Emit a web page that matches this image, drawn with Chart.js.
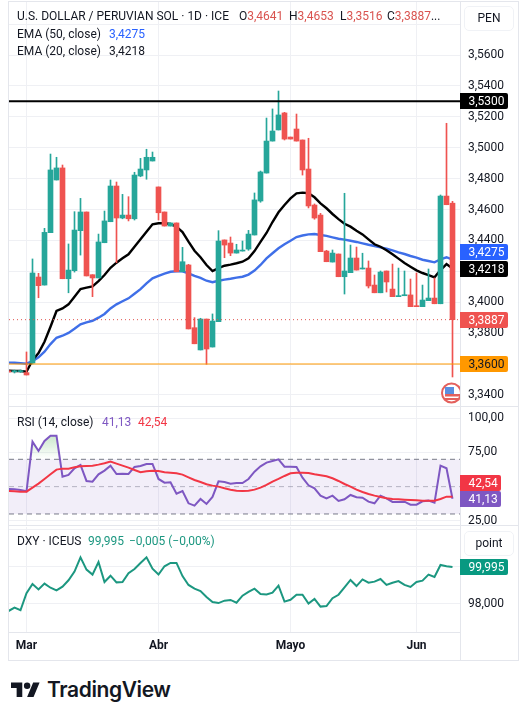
<!DOCTYPE html>
<html>
<head>
<meta charset="utf-8">
<title>USD/PEN</title>
<script src="https://cdn.jsdelivr.net/npm/chart.js@4"></script>
<style>
  html, body { margin: 0; padding: 0; background: #fff; }
  body { width: 528px; height: 705px; position: relative; overflow: hidden; font-family: Roboto, sans-serif; color: #131722; }
  canvas { position: absolute; left: 9px; }
  .rule { position: absolute; background: #e4e6ec; }
  .txt { position: absolute; font-size: 12px; line-height: 14px; white-space: pre; }
  .unit { position: absolute; left: 464px; width: 48px; height: 23px; line-height: 23px; border: 1.5px solid #f0f2f6; border-radius: 5px; text-align: center; font-size: 12px; }
  .red { color: #d9534f; }
  .teal { color: #1c9780; }
</style>
</head>
<body>

<!-- frame and pane separators -->
<div class="rule" style="left:8px;top:1px;width:511px;height:1px"></div>
<div class="rule" style="left:8px;top:660px;width:511px;height:1px"></div>
<div class="rule" style="left:8px;top:1px;width:1px;height:660px"></div>
<div class="rule" style="left:518px;top:1px;width:1px;height:660px"></div>
<div class="rule" style="left:460px;top:1px;width:1px;height:660px"></div>
<div class="rule" style="left:8px;top:406px;width:511px;height:1px"></div>
<div class="rule" style="left:8px;top:525px;width:511px;height:1px"></div>

<canvas id="priceChart" style="top:2px" width="510" height="404"></canvas>
<canvas id="rsiChart" style="top:407px" width="510" height="118"></canvas>
<canvas id="dxyChart" style="top:527px" width="510" height="133"></canvas>

<div class="txt" style="left:17px;top:9px">U.S. DOLLAR / PERUVIAN SOL · 1D · ICE</div>
<div class="txt" style="left:239px;top:9px">O<span class="red">3,4641</span></div>
<div class="txt" style="left:289px;top:9px">H<span class="red">3,4653</span></div>
<div class="txt" style="left:340px;top:9px">L<span class="red">3,3516</span></div>
<div class="txt" style="left:387px;top:9px">C<span class="red">3,3887</span>...</div>
<div class="txt" style="left:17px;top:27px">EMA (50, close)</div>
<div class="txt" style="left:109px;top:27px;color:#2962ff">3,4275</div>
<div class="txt" style="left:17px;top:44px">EMA (20, close)</div>
<div class="txt" style="left:109px;top:44px">3,4218</div>

<div class="txt" style="left:17px;top:415px">RSI (14, close)</div>
<div class="txt" style="left:102px;top:415px;color:#7e57c2">41,13</div>
<div class="txt" style="left:138px;top:415px;color:#f23645">42,54</div>

<div class="txt" style="left:17px;top:534px">DXY · ICEUS</div>
<div class="txt teal" style="left:88px;top:534px">99,995</div>
<div class="txt teal" style="left:129px;top:534px">−0,005 (−0,00%)</div>

<div class="unit" style="top:6px">PEN</div>
<div class="unit" style="top:531px">point</div>

<!-- economic event marker at the foot of the price pane -->
<svg style="position:absolute;left:441px;top:382px" width="19" height="22" viewBox="0 0 19 22">
  <circle cx="10.5" cy="11" r="9.5" fill="#fff" stroke="#e4605c" stroke-width="2"/>
  <rect x="4" y="12" width="15" height="2.5" fill="#e4605c"/>
  <rect x="4" y="16" width="13" height="2" fill="#e4605c"/>
  <rect x="4" y="5" width="9" height="7" fill="#5b8fe0"/>
</svg>

<!-- footer logo -->
<svg style="position:absolute;left:11px;top:679px" width="29" height="23" viewBox="0 0 36 28" fill="#131722">
  <path d="M14 22H7V11H0V4h14v18zM28 22h-8l7.5-18h8L28 22z"/><circle cx="20" cy="8" r="4"/>
</svg>
<div style="position:absolute;left:47px;top:677px;font:600 21px/26px Inter,Roboto,sans-serif;color:#131722;letter-spacing:-0.4px">TradingView</div>

<script>
// Daily USD/PEN candles, 75 sessions (the first one is cut by the left edge)
const opens = [3.3556,3.3550,3.3551,3.3544,3.3606,3.4163,3.4111,3.4450,3.4791,3.4869,3.4152,3.4204,3.4463,3.4584,3.4178,3.4157,3.4385,3.4521,3.4752,3.4545,3.4564,3.4540,3.4817,3.4856,3.4914,3.4746,3.4584,3.4493,3.4513,3.4197,3.4241,3.3835,3.3691,3.3891,3.3710,3.3874,3.4403,3.4383,3.4318,3.4331,3.4344,3.4435,3.4655,3.4836,3.5043,3.5115,3.5225,3.5069,3.5121,3.5050,3.4862,3.4629,3.4564,3.4331,3.4260,3.4312,3.4165,3.4191,3.4286,3.4215,3.4221,3.4111,3.4061,3.4202,3.4085,3.4036,3.4042,3.4047,3.3975,3.3971,3.4010,3.4027,3.3990,3.4687,3.4641];
const highs = [3.3560,3.3561,3.3561,3.3678,3.4280,3.4187,3.4478,3.4959,3.4938,3.4888,3.4377,3.4586,3.4672,3.4584,3.4178,3.4441,3.4590,3.4791,3.4778,3.4698,3.4683,3.4841,3.4931,3.4990,3.4972,3.4746,3.4584,3.4513,3.4513,3.4355,3.4245,3.3900,3.3896,3.3891,3.3924,3.4463,3.4403,3.4422,3.4375,3.4396,3.4465,3.4707,3.4849,3.5192,3.5251,3.5367,3.5229,3.5069,3.5218,3.5050,3.5061,3.4636,3.4575,3.4336,3.4338,3.4312,3.4705,3.4370,3.4357,3.4317,3.4267,3.4176,3.4202,3.4202,3.4247,3.4221,3.4202,3.4150,3.4189,3.4111,3.4215,3.4157,3.4694,3.5158,3.4653];
const lows = [3.3545,3.3542,3.3545,3.3529,3.3600,3.4029,3.4111,3.4450,3.4791,3.4152,3.4061,3.4195,3.4305,3.4170,3.4036,3.4157,3.4385,3.4521,3.4256,3.4540,3.4526,3.4532,3.4812,3.4796,3.4914,3.4532,3.4493,3.4493,3.4197,3.4197,3.3827,3.3731,3.3691,3.3598,3.3710,3.3874,3.4288,3.4301,3.4318,3.4331,3.4336,3.4435,3.4647,3.4836,3.5043,3.5115,3.5050,3.5056,3.5043,3.4823,3.4610,3.4537,3.4327,3.4262,3.4260,3.4165,3.4053,3.4191,3.4208,3.4215,3.4092,3.4061,3.4061,3.4066,3.4036,3.4036,3.4042,3.3971,3.3971,3.3971,3.4010,3.3990,3.3990,3.4631,3.3516];
const closes = [3.3548,3.3555,3.3556,3.3529,3.4189,3.4107,3.4452,3.4856,3.4869,3.4152,3.4208,3.4467,3.4584,3.4170,3.4157,3.4390,3.4526,3.4752,3.4545,3.4564,3.4540,3.4823,3.4862,3.4938,3.4938,3.4579,3.4493,3.4513,3.4197,3.4262,3.3827,3.3731,3.3891,3.3697,3.3878,3.4396,3.4370,3.4318,3.4338,3.4336,3.4441,3.4662,3.4843,3.5043,3.5108,3.5212,3.5056,3.5056,3.5043,3.4856,3.4623,3.4545,3.4327,3.4262,3.4318,3.4165,3.4202,3.4286,3.4208,3.4221,3.4105,3.4061,3.4195,3.4131,3.4036,3.4040,3.4047,3.3971,3.3971,3.4014,3.4027,3.3990,3.4687,3.4631,3.3887];

const ema20 = [3.3556,3.3555,3.3555,3.3550,3.3624,3.3671,3.3744,3.3841,3.3943,3.3960,3.3986,3.4036,3.4085,3.4094,3.4103,3.4137,3.4176,3.4223,3.4256,3.4284,3.4310,3.4359,3.4407,3.4456,3.4504,3.4511,3.4511,3.4506,3.4489,3.4454,3.4392,3.4333,3.4291,3.4241,3.4202,3.4221,3.4236,3.4243,3.4252,3.4262,3.4284,3.4331,3.4390,3.4448,3.4519,3.4582,3.4629,3.4672,3.4705,3.4709,3.4705,3.4679,3.4640,3.4608,3.4571,3.4538,3.4508,3.4489,3.4463,3.4439,3.4407,3.4375,3.4359,3.4336,3.4310,3.4282,3.4254,3.4230,3.4206,3.4189,3.4176,3.4161,3.4208,3.4247,3.4218];
const ema50 = [3.3609,3.3608,3.3606,3.3602,3.3619,3.3643,3.3680,3.3729,3.3770,3.3783,3.3801,3.3828,3.3857,3.3870,3.3880,3.3900,3.3924,3.3960,3.3986,3.4006,3.4025,3.4055,3.4085,3.4122,3.4155,3.4170,3.4185,3.4197,3.4200,3.4200,3.4187,3.4170,3.4157,3.4139,3.4129,3.4139,3.4146,3.4152,3.4159,3.4165,3.4179,3.4205,3.4241,3.4284,3.4317,3.4349,3.4375,3.4398,3.4422,3.4432,3.4439,3.4441,3.4435,3.4429,3.4420,3.4411,3.4405,3.4398,3.4390,3.4381,3.4372,3.4364,3.4355,3.4346,3.4336,3.4323,3.4312,3.4299,3.4288,3.4275,3.4267,3.4258,3.4278,3.4291,3.4275];

const rsi = [48.30,48.05,47.56,46.59,82.93,76.10,83.41,87.32,87.32,57.32,58.54,63.41,65.85,54.15,53.66,59.02,61.71,65.37,59.27,59.51,59.27,64.39,65.12,66.59,66.59,55.61,52.93,53.17,44.88,46.83,37.80,36.10,40.98,37.32,42.44,53.90,53.41,52.20,52.68,52.68,55.61,60.98,64.88,67.56,68.78,70.00,64.63,64.63,64.39,56.59,50.98,48.78,43.41,41.46,43.41,39.51,40.73,43.90,42.20,41.95,39.02,37.80,43.41,41.46,38.78,38.78,39.02,36.83,36.83,39.27,39.76,38.29,65.37,63.41,41.13];
const rsiMa = [46.80,46.59,46.34,46.34,49.27,52.20,55.61,59.02,62.44,63.17,63.17,64.15,64.88,65.12,65.37,66.10,67.07,68.29,66.83,65.37,63.90,62.20,60.49,61.22,61.71,61.46,60.49,60.24,59.76,58.78,56.83,54.88,53.41,51.71,50.73,50.00,48.78,47.80,47.07,46.83,47.07,47.80,49.27,51.22,53.66,55.61,57.80,59.76,60.24,60.24,60.00,59.02,58.29,57.56,56.10,54.15,51.95,50.00,47.80,46.10,44.63,43.41,42.44,41.46,40.98,40.73,40.49,40.24,40.00,39.76,39.76,39.76,40.98,42.68,42.54];

const dxy = [97.62,97.80,97.66,98.58,99.08,98.79,99.10,98.88,98.74,98.94,99.28,99.75,100.52,99.86,99.59,100.27,99.19,99.53,99.17,99.19,99.66,99.89,100.22,100.52,99.91,99.59,100.04,100.22,100.22,99.51,99.03,98.83,98.70,98.38,98.11,98.05,98.18,98.22,98.07,98.45,98.65,98.83,98.54,98.52,98.61,98.99,98.13,98.23,98.50,98.50,98.02,98.27,97.86,97.89,98.31,98.50,98.90,99.30,98.97,99.33,99.15,99.21,99.35,99.03,99.15,99.24,99.03,98.92,99.19,99.26,99.59,99.46,100.11,100.04,99.995];

const monthLabels = ['Mar', 'Abr', 'Mayo', 'Jun'];
const monthIndexes = [3, 25, 47, 68];
const priceTicks = [3.34, 3.36, 3.38, 3.40, 3.42, 3.44, 3.46, 3.48, 3.50, 3.52, 3.54, 3.56, 3.58];
const priceTickHidden = [3.58];
const rsiTicks = [25, 75, 100];
const dxyTicks = [98, 100, 102];
const dxyTickShown = [98];

const resistance = 3.53;
const support = 3.36;
const lastClose = closes.at(-1);
const rsiUpper = 70, rsiMiddle = 50, rsiLower = 30;

const UP = '#26a69a';
const DOWN = '#ef5350';
const GRID = '#eff0f4';
const TEXT = '#131722';
const FONT = 'Roboto, sans-serif';

// shared horizontal window, one bar every 6px
const xMin = 0.0833, xMax = 75.25;
const pts = arr => arr.map((v, i) => ({ x: i, y: v }));
const span = v => [{ x: xMin, y: v }, { x: xMax, y: v }];
const comma = (v, d) => v.toFixed(d).replace('.', ',');

const lineDs = (data, color, width, order, extra) => Object.assign({
  type: 'line', data, borderColor: color, borderWidth: width, order,
  pointRadius: 0, tension: 0, fill: false
}, extra);

// price tags sitting on the right axis
const axisTags = items => ({
  id: 'axisTags',
  afterDraw(chart) {
    const { ctx } = chart;
    const scale = chart.scales.y;
    items.forEach(t => {
      const y = Math.round(scale.getPixelForValue(t.value)) + (t.shift || 0);
      const left = chart.chartArea.right;
      ctx.save();
      ctx.fillStyle = t.bg;
      ctx.beginPath();
      ctx.roundRect(left, y - 8, t.w || 48, 16, [0, 2, 2, 0]);
      ctx.fill();
      ctx.fillStyle = t.fg || '#fff';
      ctx.font = '12px ' + FONT;
      ctx.textBaseline = 'middle';
      ctx.fillText(t.text, left + 8.5, y + 0.5);
      ctx.restore();
    });
  }
});

// no label overhang, the plot edges stay where min/max put them
const noPadding = s => { s.paddingTop = s.paddingBottom = s.paddingLeft = s.paddingRight = 0; };

const xAxis = (showLabels) => ({
  type: 'linear', min: xMin, max: xMax, offset: false,
  afterBuildTicks: s => { s.ticks = monthIndexes.map(v => ({ value: v })); },
  afterFit: s => { s.height = showLabels ? 28 : 0; noPadding(s); },
  grid: { color: GRID, drawTicks: false, offset: false },
  border: { display: showLabels, color: '#e4e6ec' },
  ticks: {
    display: showLabels, autoSkip: false, maxRotation: 0, padding: 7, color: TEXT,
    font: { family: FONT, size: 12, weight: 'bold' },
    callback: v => monthLabels[monthIndexes.indexOf(v)]
  }
});

const yAxis = (min, max, tickList, fmt) => ({
  position: 'right', min, max,
  afterBuildTicks: s => { s.ticks = tickList.map(v => ({ value: v })); },
  afterFit: s => { s.width = 59; noPadding(s); },
  grid: { color: GRID, drawTicks: false },
  border: { display: false },
  ticks: {
    autoSkip: false, padding: 8, color: TEXT,
    font: { family: FONT, size: 12 }, callback: fmt
  }
});

const baseOptions = (scales) => ({
  responsive: false,
  animation: false,
  events: [],
  layout: { padding: 0 },
  scales,
  plugins: { legend: { display: false }, tooltip: { enabled: false } }
});

// price pane
new Chart(document.getElementById('priceChart'), {
  type: 'bar',
  plugins: [axisTags([
    { value: lastClose, text: comma(lastClose, 4), bg: '#ef5350' },
    { value: support, text: comma(support, 4), bg: '#ff9800', fg: TEXT },
    { value: resistance, text: comma(resistance, 4), bg: '#000' },
    { value: ema50.at(-1), text: comma(ema50.at(-1), 4), bg: '#2962ff', shift: -8 },
    { value: ema20.at(-1), text: comma(ema20.at(-1), 4), bg: '#000' }
  ])],
  data: {
    datasets: [
      lineDs(span(resistance), '#000', 2, 1),
      lineDs(span(support), '#ff9800', 1, 2),
      lineDs(span(lastClose), '#e0534f', 1, 3, { borderDash: [1, 3] }),
      {
        data: closes.map((c, i) => ({ x: i, y: [opens[i], c] })),
        backgroundColor: closes.map((c, i) => c >= opens[i] ? UP : DOWN),
        barThickness: 5, minBarLength: 1, grouped: false, order: 4
      },
      {
        data: closes.map((c, i) => ({ x: i, y: [lows[i], highs[i]] })),
        backgroundColor: closes.map((c, i) => c >= opens[i] ? UP : DOWN),
        barThickness: 1, grouped: false, order: 5
      },
      lineDs(pts(ema20), '#000', 2.4, 6),
      lineDs(pts(ema50), '#3f6fe8', 2.4, 7)
    ]
  },
  options: baseOptions({
    x: xAxis(false),
    y: yAxis(3.33282, 3.59431, priceTicks, v => priceTickHidden.includes(v) ? '' : comma(v, 4))
  })
});

// RSI pane
const rsiCtx = document.getElementById('rsiChart').getContext('2d');
const obGlow = rsiCtx.createLinearGradient(0, 8, 0, 52);
obGlow.addColorStop(0, 'rgba(76,175,80,0.55)');
obGlow.addColorStop(1, 'rgba(76,175,80,0)');

new Chart(rsiCtx, {
  type: 'line',
  plugins: [axisTags([
    { value: rsi.at(-1), text: comma(rsi.at(-1), 2), bg: '#7e57c2', w: 41 },
    { value: rsiMa.at(-1), text: comma(rsiMa.at(-1), 2), bg: '#f23645', w: 41, shift: -14 }
  ])],
  data: {
    datasets: [
      lineDs(pts(rsiMa), '#f23645', 2, 1),
      lineDs(pts(rsi), '#7e57c2', 2, 2, {
        fill: { target: { value: rsiUpper }, above: obGlow, below: 'rgba(0,0,0,0)' }
      }),
      lineDs(span(rsiUpper), '#787b86', 1, 3, { borderDash: [5, 4], fill: '+1', backgroundColor: 'rgba(126,87,194,0.1)' }),
      lineDs(span(rsiLower), '#787b86', 1, 4, { borderDash: [5, 4] }),
      lineDs(span(rsiMiddle), 'rgba(120,123,134,0.5)', 1, 5, { borderDash: [5, 4] })
    ]
  },
  options: baseOptions({
    x: xAxis(false),
    y: yAxis(21.93, 108.27, rsiTicks, v => comma(v, 2))
  })
});

// DXY pane
new Chart(document.getElementById('dxyChart'), {
  type: 'line',
  plugins: [axisTags([
    { value: dxy.at(-1), text: comma(dxy.at(-1), 3), bg: '#089981' }
  ])],
  data: { datasets: [lineDs(pts(dxy), '#1c9780', 2, 1)] },
  options: baseOptions({
    x: xAxis(true),
    y: yAxis(96.486, 102.162, dxyTicks, v => dxyTickShown.includes(v) ? comma(v, 3) : '')
  })
});
</script>
</body>
</html>
